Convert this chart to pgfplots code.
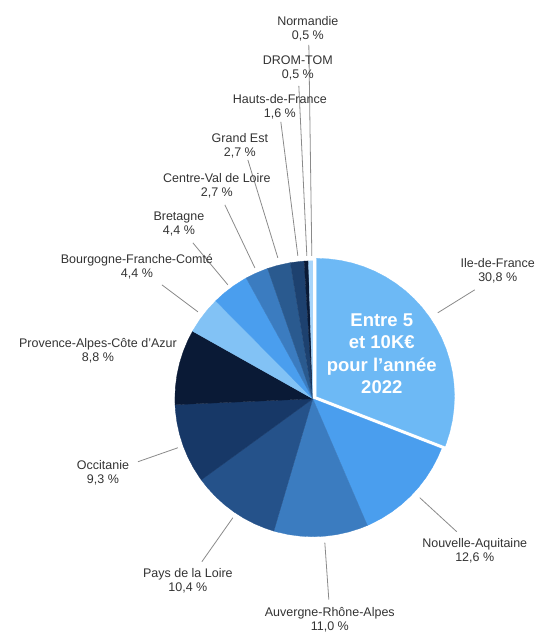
\documentclass[border=0pt]{standalone}
\usepackage{pgfplots}
\pgfplotsset{compat=1.18}
\usepackage{fontspec}
\setmainfont{Liberation Sans}
\definecolor{cA}{HTML}{6DB9F5}
\definecolor{cB}{HTML}{4A9EEE}
\definecolor{cC}{HTML}{3B7CC0}
\definecolor{cD}{HTML}{25528A}
\definecolor{cD2}{HTML}{2A5A8F}
\definecolor{cE}{HTML}{173867}
\definecolor{cE2}{HTML}{1D416F}
\definecolor{cF}{HTML}{0A1A36}
\definecolor{cG}{HTML}{82C2F5}
\definecolor{cH}{HTML}{A8D5FA}
\definecolor{lead}{HTML}{8A8A8A}
\begin{document}
\begin{tikzpicture}
\begin{axis}[x=1pt, y=1pt, xmin=-313, xmax=225, ymin=-233, ymax=399,
  hide axis, clip=false, scale only axis,
  every axis plot/.append style={line width=0.3pt}]
\path (axis cs:-313,-233) rectangle (axis cs:225,399);
% Ile-de-France 30.8 (exploded)
\addplot[data cs=polar, fill=cA, draw=cA, xshift=3.7pt, yshift=2.5pt] coordinates {
(0,0) (90,138) (85,138) (80,138) (75,138) (70,138) (65,138) (60,138) (55,138) (50,138) (45,138) (40,138) (35,138) (30,138) (25,138) (20,138) (15,138) (10,138) (5,138) (0,138) (-5,138) (-10,138) (-15,138) (-20,138) (-21.21,138) (0,0)};
% Nouvelle-Aquitaine 12.6
\addplot[data cs=polar, fill=cB, draw=cB] coordinates {
(0,0) (-21.21,138) (-25,138) (-30,138) (-35,138) (-40,138) (-45,138) (-50,138) (-55,138) (-60,138) (-65,138) (-66.71,138) (0,0)};
% Auvergne-Rhone-Alpes 11.0
\addplot[data cs=polar, fill=cC, draw=cC] coordinates {
(0,0) (-66.71,138) (-70,138) (-75,138) (-80,138) (-85,138) (-90,138) (-95,138) (-100,138) (-105,138) (-106.43,138) (0,0)};
% Pays de la Loire 10.4
\addplot[data cs=polar, fill=cD, draw=cD] coordinates {
(0,0) (-106.43,138) (-110,138) (-115,138) (-120,138) (-125,138) (-130,138) (-135,138) (-140,138) (-143.98,138) (0,0)};
% Occitanie 9.3
\addplot[data cs=polar, fill=cE, draw=cE] coordinates {
(0,0) (-143.98,138) (-145,138) (-150,138) (-155,138) (-160,138) (-165,138) (-170,138) (-175,138) (-177.56,138) (0,0)};
% PACA 8.8
\addplot[data cs=polar, fill=cF, draw=cF] coordinates {
(0,0) (-177.56,138) (-180,138) (-185,138) (-190,138) (-195,138) (-200,138) (-205,138) (-209.34,138) (0,0)};
% Bourgogne-Franche-Comte 4.4
\addplot[data cs=polar, fill=cG, draw=cG] coordinates {
(0,0) (-209.34,138) (-210,138) (-215,138) (-220,138) (-225.22,138) (0,0)};
% Bretagne 4.4
\addplot[data cs=polar, fill=cB, draw=cB] coordinates {
(0,0) (-225.22,138) (-230,138) (-235,138) (-240,138) (-241.11,138) (0,0)};
% Centre-Val de Loire 2.7
\addplot[data cs=polar, fill=cC, draw=cC] coordinates {
(0,0) (-241.11,138) (-245,138) (-250,138) (-250.86,138) (0,0)};
% Grand Est 2.7
\addplot[data cs=polar, fill=cD2, draw=cD2] coordinates {
(0,0) (-250.86,138) (-255,138) (-260,138) (-260.61,138) (0,0)};
% Hauts-de-France 1.6
\addplot[data cs=polar, fill=cE2, draw=cE2] coordinates {
(0,0) (-260.61,138) (-265,138) (-266.39,138) (0,0)};
% DROM-TOM 0.5
\addplot[data cs=polar, fill=cF, draw=cF] coordinates {
(0,0) (-266.39,138) (-268.19,138) (0,0)};
% Normandie 0.5
\addplot[data cs=polar, fill=cH, draw=cH] coordinates {
(0,0) (-268.19,138) (-270,138) (0,0)};

% leader lines
\addplot[lead, line width=0.8pt] coordinates {(125,86) (162,109)};
\addplot[lead, line width=0.8pt] coordinates {(107,-99) (144,-133)};
\addplot[lead, line width=0.8pt] coordinates {(12,-144) (16,-201)};
\addplot[lead, line width=0.8pt] coordinates {(-80,-119) (-111,-163)};
\addplot[lead, line width=0.8pt] coordinates {(-135,-49) (-175,-63)};
\addplot[lead, line width=0.8pt] coordinates {(-151,114) (-115,87)};
\addplot[lead, line width=0.8pt] coordinates {(-120,156) (-85,114)};
\addplot[lead, line width=0.8pt] coordinates {(-88,194) (-58,131)};
\addplot[lead, line width=0.8pt] coordinates {(-65,239) (-35,141)};
\addplot[lead, line width=0.8pt] coordinates {(-32,277) (-15,143)};
\addplot[lead, line width=0.8pt] coordinates {(-14,313) (-6,143)};
\addplot[lead, line width=0.8pt] coordinates {(-4,354) (-1,143)};

% labels
\tikzset{lab/.style={align=center, inner sep=0pt, text=black!80, font=\fontsize{12.5}{14}\selectfont}}
\node[lab] at (axis cs:-5,370.5) {Normandie\\0,5 \%};
\node[lab] at (axis cs:-15,331) {DROM-TOM\\0,5 \%};
\node[lab] at (axis cs:-33,292.5) {Hauts-de-France\\1,6 \%};
\node[lab] at (axis cs:-73,253.5) {Grand Est\\2,7 \%};
\node[lab] at (axis cs:-96,213.5) {Centre-Val de Loire\\2,7 \%};
\node[lab] at (axis cs:-134,174.5) {Bretagne\\4,4 \%};
\node[lab] at (axis cs:-176,132) {Bourgogne-Franche-Comté\\4,4 \%};
\node[lab] at (axis cs:-215,48.5) {Provence-Alpes-Côte d’Azur\\8,8 \%};
\node[lab] at (axis cs:-210,-74.5) {Occitanie\\9,3 \%};
\node[lab] at (axis cs:-125,-182.5) {Pays de la Loire\\10,4 \%};
\node[lab] at (axis cs:17,-221) {Auvergne-Rhône-Alpes\\11,0 \%};
\node[lab] at (axis cs:162,-152.5) {Nouvelle-Aquitaine\\12,6 \%};
\node[lab] at (axis cs:185,128.5) {Ile-de-France\\30,8 \%};
\node[align=center, inner sep=0pt, text=white, font=\fontsize{18.5}{22.5}\selectfont\bfseries] at (axis cs:69,45) {Entre 5\\et 10K€\\pour l’année\\2022};
\end{axis}
\end{tikzpicture}
\end{document}
